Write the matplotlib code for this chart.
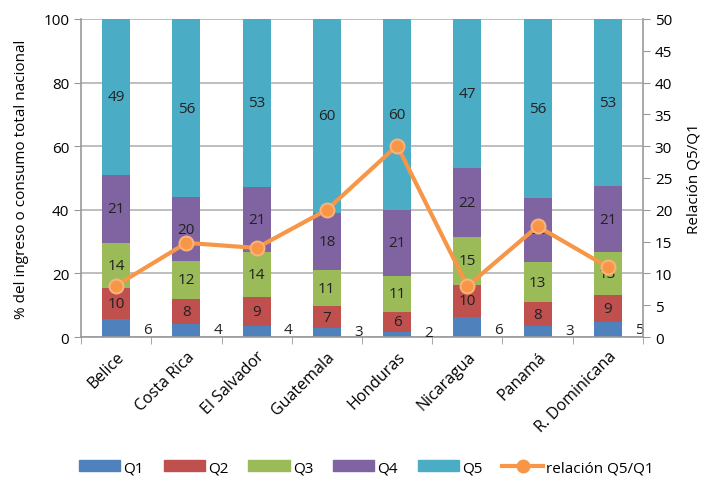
import numpy as np
import matplotlib.pyplot as plt
from matplotlib.lines import Line2D
from matplotlib.patches import Patch

paises = ["Belice", "Costa Rica", "El Salvador", "Guatemala", "Honduras",
          "Nicaragua", "Panamá", "R. Dominicana"]

# participación (%) por quintil
q1 = [5.8, 4.0, 3.6, 2.7, 1.6, 6.3, 3.4, 4.7]
q2 = [9.6, 8.0, 9.1, 7.0, 6.4, 10.2, 7.6, 8.6]
q3 = [14.2, 12.0, 13.9, 11.4, 11.3, 14.9, 12.6, 13.3]
q4 = [21.4, 19.9, 20.6, 18.0, 20.6, 21.6, 20.1, 20.9]
q5 = [49.0, 56.1, 52.8, 60.9, 60.1, 47.0, 56.3, 52.5]

# etiquetas mostradas
lab_q1 = [6, 4, 4, 3, 2, 6, 3, 5]
lab_q2 = [10, 8, 9, 7, 6, 10, 8, 9]
lab_q3 = [14, 12, 14, 11, 11, 15, 13, 13]
lab_q4 = [21, 20, 21, 18, 21, 22, 20, 21]
lab_q5 = [49, 56, 53, 60, 60, 47, 56, 53]

relacion = [8.1, 14.8, 14.0, 20.0, 30.1, 8.0, 17.4, 11.0]

colores = ["#4F81BD", "#C0504D", "#9BBB59", "#8064A2", "#4BACC6"]
naranja = "#F79646"

plt.rcParams['font.family'] = ['Open Sans', 'DejaVu Sans']

fig = plt.figure(figsize=(7.05, 4.85), dpi=100)
ax = fig.add_axes([0.115, 0.303, 0.797, 0.656])
x = np.arange(len(paises))
ancho = 0.4

series = [q1, q2, q3, q4, q5]
etiquetas = [lab_q1, lab_q2, lab_q3, lab_q4, lab_q5]
nombres = ["Q1", "Q2", "Q3", "Q4", "Q5"]
base = np.zeros(len(paises))
for i, (vals, labs) in enumerate(zip(series, etiquetas)):
    vals = np.array(vals)
    ax.bar(x, vals, ancho, bottom=base, color=colores[i], zorder=2)
    for j in range(len(paises)):
        if i == 0:
            # la etiqueta de Q1 aparece a la derecha de la barra
            yy = min(vals[j] / 2 + 0.5, 2.5)
            ax.text(x[j] + 0.45, yy, str(labs[j]), ha='center', va='center',
                    fontsize=11, color="#222222", zorder=4)
        else:
            ax.text(x[j], base[j] + vals[j] / 2, str(labs[j]), ha='center',
                    va='center', fontsize=11, color="#222222", zorder=4)
    base = base + vals

ax.set_xlim(-0.5, len(paises) - 0.5)
ax.set_ylim(0, 100)
ax.set_yticks(range(0, 101, 20))
ax.yaxis.grid(True, color="#b3b3b3", linewidth=1.2, zorder=0)
ax.set_axisbelow(True)
ax.set_xticks(x)
ax.set_xticklabels(paises, rotation=45, ha='right', rotation_mode='anchor',
                   fontsize=11.5)
ax.set_xticks(np.arange(-0.5, len(paises), 1), minor=True)
ax.tick_params(axis='x', which='major', length=0, pad=8)
ax.tick_params(axis='x', which='minor', length=5, color="#999999")
ax.tick_params(axis='y', length=5, color="#999999", labelsize=11)
for s in ["top", "right"]:
    ax.spines[s].set_visible(False)
for s in ["left", "bottom"]:
    ax.spines[s].set_color("#999999")
    ax.spines[s].set_linewidth(1.2)
ax.set_ylabel("% del ingreso o consumo total nacional", fontsize=11,
              labelpad=10)

ax2 = ax.twinx()
ax2.plot(x, relacion, color=naranja, linewidth=3, marker='o', markersize=10,
         markerfacecolor=naranja, markeredgecolor="#F9B27A", markeredgewidth=1.5,
         zorder=5)
ax2.set_ylim(0, 50)
ax2.set_yticks(range(0, 51, 5))
ax2.tick_params(axis='y', length=5, color="#999999", labelsize=11)
for s in ["top", "left", "bottom"]:
    ax2.spines[s].set_visible(False)
ax2.spines["right"].set_color("#999999")
ax2.spines["right"].set_linewidth(1.2)
ax2.set_ylabel("Relación Q5/Q1", fontsize=11, labelpad=10)

handles = [Patch(color=c) for c in colores]
handles.append(Line2D([0], [0], color=naranja, linewidth=3, marker='o',
                      markersize=9))
fig.legend(handles, nombres + ["relación Q5/Q1"], loc='lower center',
           bbox_to_anchor=(0.52, -0.01), ncol=6, frameon=False, fontsize=11,
           handlelength=2.7, handletextpad=0.2, columnspacing=1.3)

fig.savefig("out.png", dpi=100)
